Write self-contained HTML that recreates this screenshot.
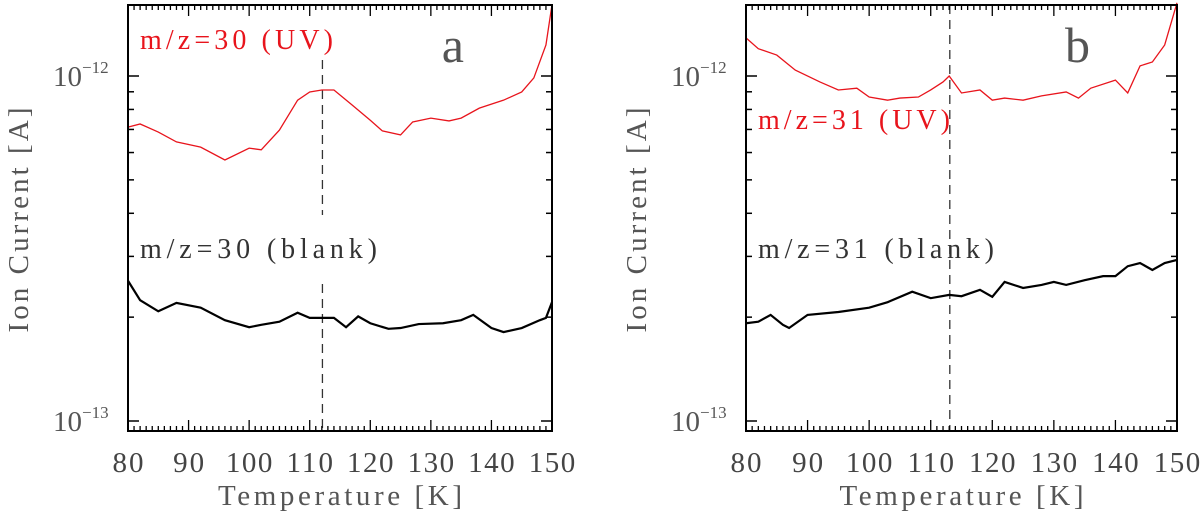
<!DOCTYPE html>
<html><head><meta charset="utf-8"><style>
html,body{margin:0;padding:0;background:#fff;width:1200px;height:513px;overflow:hidden}
svg text{font-family:"Liberation Serif","DejaVu Serif",serif}
</style></head><body>
<svg id="chart" width="1200" height="513" xmlns="http://www.w3.org/2000/svg"></svg>
<script>
const xTicks=[80,90,100,110,120,130,140,150];
const aRedT=[80,82,85,88,92,96,100,102,105,108,110,112,114,117,120,122,125,127,130,133,135,138,142,145,147,149,150];
const aRedV=[7.11,7.26,6.88,6.44,6.22,5.71,6.18,6.11,6.97,8.51,8.99,9.11,9.11,8.24,7.44,6.93,6.75,7.36,7.55,7.41,7.55,8.07,8.51,8.99,9.87,12.3,16.1];
const aBlkT=[80,82,85,88,92,96,100,102,105,108,110,112,114,116,118,120,123,125,128,132,135,137,140,142,145,148,149,150];
const aBlkV=[2.55,2.24,2.08,2.20,2.13,1.96,1.87,1.90,1.94,2.06,1.99,1.99,1.99,1.87,2.01,1.92,1.85,1.86,1.91,1.92,1.96,2.03,1.86,1.81,1.86,1.96,1.99,2.21];
const bRedT=[80,82,85,88,92,95,98,100,103,105,108,110,112,113,115,118,120,122,125,128,132,134,136,140,142,144,146,148,150];
const bRedV=[12.9,12.0,11.5,10.4,9.61,9.11,9.22,8.69,8.51,8.63,8.69,9.11,9.61,10.0,8.93,9.11,8.51,8.63,8.51,8.76,8.99,8.63,9.22,9.73,8.93,10.7,10.98,12.3,16.3];
const bBlkT=[80,82,84,86,87,90,95,100,103,107,110,113,115,118,120,122,125,128,130,132,135,138,140,142,144,146,148,150];
const bBlkV=[1.92,1.94,2.03,1.90,1.86,2.03,2.07,2.13,2.21,2.37,2.27,2.32,2.30,2.40,2.29,2.53,2.43,2.48,2.53,2.48,2.56,2.63,2.63,2.81,2.87,2.74,2.87,2.93];
const NS="http://www.w3.org/2000/svg";
const svg=document.getElementById('chart');
function mk(tag,attrs,parent){const e=document.createElementNS(NS,tag);for(const k in attrs)e.setAttribute(k,attrs[k]);(parent||svg).appendChild(e);return e;}
const top0=5,bot0=431;
function yS(v){return 421-Math.log10(v)*345;} // v in units of 1e-13 A
function panel(id,L,R,redT,redV,blkT,blkV,redLbl,blkLbl,letter,redLblY,redW,blkW,dash){
  const g=mk('g',{});
  
  
  const xS=t=>L+(t-80)/70*(R-L);
  for(const d of dash){
    const dl=mk('line',{x1:xS(d.t),x2:xS(d.t),y1:d.y1,y2:d.y2,stroke:'#333','stroke-width':1.3,'stroke-dasharray':'9,6'},g);
    
    
  }
  const rp=mk('polyline',{points:redT.map((t,i)=>xS(t)+','+yS(redV[i])).join(' '),fill:'none',stroke:'#e8141c','stroke-width':1.3},g);
  
  
  const bp=mk('polyline',{points:blkT.map((t,i)=>xS(t)+','+yS(blkV[i])).join(' '),fill:'none',stroke:'#000','stroke-width':2.2},g);
  
  
  const fr=mk('rect',{x:L,y:top0,width:R-L,height:bot0-top0,fill:'none',stroke:'#000','stroke-width':2},g);
  
  
  for(let t=80;t<=150;t++){
    const len=(t%10===0)?11:5;const x=xS(t);
    mk('line',{x1:x,x2:x,y1:bot0,y2:bot0-len,stroke:'#000','stroke-width':1.3},g);
    mk('line',{x1:x,x2:x,y1:top0,y2:top0+len,stroke:'#000','stroke-width':1.3},g);
  }
  xTicks.forEach(t=>{
    const s=String(t);
    const tx=mk('text',{x:xS(t),y:472,'text-anchor':'middle','font-size':29,fill:'#444',textLength:s.length*15.5,lengthAdjust:'spacing'},g);
    tx.textContent=s;
    
    
  });
  const yt=[1,2,3,4,5,6,7,8,9,10,20];
  yt.forEach(v=>{const y=yS(v);if(y<top0||y>bot0)return;const len=(v===1||v===10)?11:6;
    mk('line',{x1:L,x2:L+len,y1:y,y2:y,stroke:'#000','stroke-width':1.5},g);
    mk('line',{x1:R,x2:R-len,y1:y,y2:y,stroke:'#000','stroke-width':1.5},g);});
  [[10,'12'],[1,'13']].forEach(([v,e])=>{
    const tx=mk('text',{x:L-75,y:yS(v)+10,'font-size':29,fill:'#555'},g);
    tx.textContent='10';
    const sp=mk('tspan',{dy:-13,'font-size':17},tx);sp.textContent='\u2212'+e;
    
    
  });
  const xt=mk('text',{x:(L+R)/2,y:505,'text-anchor':'middle','font-size':29,fill:'#555',textLength:244,lengthAdjust:'spacing'},g);
  xt.textContent='Temperature [K]';
  
  
  const yx=L-100, yy=220;
  const ytl=mk('text',{x:yx,y:yy,'text-anchor':'middle','font-size':29,fill:'#555',textLength:225,lengthAdjust:'spacing',transform:`rotate(-90 ${yx} ${yy})`},g);
  ytl.textContent='Ion Current [A]';
  
  
  const r=mk('text',{x:L+12,y:redLblY,'font-size':28,fill:'#e8141c',textLength:redW,lengthAdjust:'spacing'},g);
  r.textContent=redLbl;
  
  
  const b=mk('text',{x:L+12,y:258,'font-size':28,fill:'#333',textLength:blkW,lengthAdjust:'spacing'},g);
  b.textContent=blkLbl;
  
  
  const l=mk('text',{x:L+(R-L)*0.74,y:62,'font-size':50,fill:'#555'},g);
  l.textContent=letter;
  
  
}
panel('a',128,552,aRedT,aRedV,aBlkT,aBlkV,'m/z=30 (UV)','m/z=30 (blank)','a',49,193,237,[{t:112.1,y1:60,y2:215},{t:112.1,y1:284,y2:431}]);
panel('b',746,1177,bRedT,bRedV,bBlkT,bBlkV,'m/z=31 (UV)','m/z=31 (blank)','b',129,192,236,[{t:113.1,y1:5,y2:431}]);
</script>
</body></html>
